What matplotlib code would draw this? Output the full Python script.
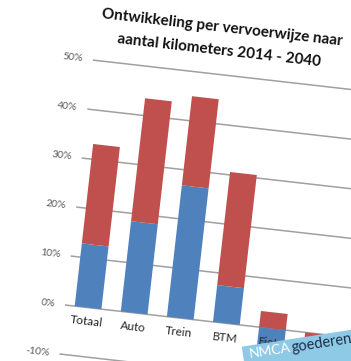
import numpy as np
import matplotlib
matplotlib.use("Agg")
import matplotlib.pyplot as plt
from matplotlib.transforms import Affine2D
from matplotlib.patches import Polygon

plt.rcParams["font.family"] = ["Lato", "DejaVu Sans"]

# growth per transport mode, in percent (two stacked components)
categories = ["Totaal", "Auto", "Trein", "BTM", "Fiets", "Lopen"]
blue_values = [12.8, 18.4, 26.8, 7.5, -4.0, 0.0]
red_values = [20.3, 25.1, 18.2, 23.1, 3.3, -3.0]
y_ticks = [-10, 0, 10, 20, 30, 40, 50]
title_lines = ["Ontwikkeling per vervoerwijze naar", "aantal kilometers 2014 - 2040"]
banner_words = ["NMCA", "goederenv"]

BLUE = "#4f81bd"
RED = "#c0504d"
GRID = "#a0a0a0"

# the chart sits tilted on the page
ANGLE = 6.5          # degrees, clockwise
STEP = 46.4          # pixels per category
PX_PER_PCT = 4.93    # pixels per percent
ORIGIN = (65, 305)   # left end of the 0% line, in pixels (y down)


def chart_transform(ax):
    t = np.deg2rad(ANGLE)
    c, s = np.cos(t), np.sin(t)
    ox = ORIGIN[0] + 0.5 * STEP * c
    oy = ORIGIN[1] + 0.5 * STEP * s
    m = np.array([[STEP * c, PX_PER_PCT * s, ox],
                  [STEP * s, -PX_PER_PCT * c, oy],
                  [0.0, 0.0, 1.0]])
    return Affine2D(m) + ax.transData


fig = plt.figure(figsize=(3.51, 3.61), dpi=100)
ax = fig.add_axes([0, 0, 1, 1])
ax.set_axis_off()
tr = chart_transform(ax)

x = np.arange(len(categories))
blue = np.array(blue_values)
red = np.array(red_values)
red_bottom = np.where(red >= 0, np.maximum(blue, 0), np.minimum(blue, 0))

bars_blue = ax.bar(x, blue, width=0.58, color=BLUE, zorder=2)
bars_red = ax.bar(x, red, bottom=red_bottom, width=0.58, color=RED, zorder=2)
for p in list(bars_blue) + list(bars_red):
    p.set_transform(tr)

for t in y_ticks:
    ax.plot([-0.5, len(categories) + 0.5], [t, t], transform=tr, color=GRID,
            lw=1.1, zorder=1, solid_capstyle="butt")
    ax.text(-0.715, t, f"{t}%", transform=tr, rotation=-ANGLE,
            rotation_mode="anchor", ha="right", va="center",
            fontsize=7.5, color="#595959")

for i, name in enumerate(categories):
    ax.text(i, -2.9, name, transform=tr, rotation=-ANGLE,
            rotation_mode="anchor", ha="center", va="center",
            fontsize=8.5, color="#262626")

for line, ypos in zip(title_lines, [59.5, 54.8]):
    ax.text(2.19, ypos, line, transform=tr, rotation=-ANGLE,
            rotation_mode="anchor", ha="center", va="center",
            fontsize=11, weight="bold", color="#111111")

# banner in the lower right corner, tilted the other way
phi = np.deg2rad(8.8)
e1 = np.array([np.cos(phi), -np.sin(phi)])
e2 = np.array([np.sin(phi), np.cos(phi)])
a = np.array([241.7, 346.7])
corners = [a, a + 300 * e1, a + 300 * e1 + 80 * e2, a + 80 * e2]
ax.add_patch(Polygon(corners, closed=True, facecolor="#8ecae6",
                     edgecolor="none", zorder=5))
p1 = a + 6.5 * e1 + 12.5 * e2
p2 = a + 48.5 * e1 + 12.5 * e2
ax.text(p1[0], p1[1], banner_words[0], rotation=8.8, rotation_mode="anchor",
        ha="left", va="baseline", fontsize=10, color="white", zorder=6)
ax.text(p2[0], p2[1], banner_words[1], rotation=8.8, rotation_mode="anchor",
        ha="left", va="baseline", fontsize=10.5, color="#1c2f4a", zorder=6)

ax.set_xlim(0, 351)
ax.set_ylim(361, 0)

fig.savefig("out.png", dpi=100)
